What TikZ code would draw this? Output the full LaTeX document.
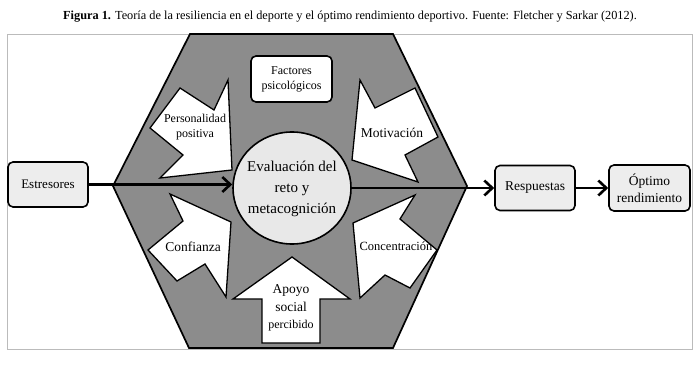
\documentclass[tikz,border=0pt]{standalone}
\usepackage{fontspec}
\setmainfont{Liberation Serif}
\usetikzlibrary{arrows.meta,shapes.geometric}
\definecolor{hexgray}{HTML}{8C8C8C}
\definecolor{circfill}{HTML}{E8E8E8}
\definecolor{boxfill}{HTML}{EDEDED}
\definecolor{framec}{HTML}{BBBBBB}
\begin{document}
\begin{tikzpicture}[x=1pt,y=-1pt,
  conn/.style={line width=2.6pt,-{Straight Barb[length=8pt,width=15pt]}},
  boxnode/.style={draw=black,rounded corners=5pt,line width=1.6pt,fill=boxfill,
     minimum width=80pt,minimum height=45pt,align=center,inner sep=1pt},
  blockarrow/.style={fill=white,draw=black,line width=1.3pt,line join=miter},
  lbl/.style={align=center,inner sep=0pt,text width=110pt}]
\useasboundingbox (0,0) rectangle (700,374);
% title
\node[font=\fontsize{12.3}{14}\selectfont] (title) at (350,17)
  {\textbf{Figura 1.} Teoría de la resiliencia en el deporte y el óptimo rendimiento deportivo. Fuente: Fletcher y Sarkar (2012).};
% frame
\draw[framec,line width=0.9pt] (7,34) rectangle (692,349);
% hexagon
\draw[fill=hexgray,line width=1.7pt,line join=miter]
  (190,34) -- (393,34) -- (467,186) -- (393,348) -- (189,348) -- (113,186) -- cycle;
% block arrows
\draw[blockarrow] (150,128) -- (180,88) -- (214,110) -- (228,80) -- (232,170) -- (160,178) -- (183,155) -- cycle;
\draw[blockarrow] (360,80) -- (375,108) -- (415,88) -- (438,137) -- (405,155) -- (418,182) -- (352,160) -- cycle;
\draw[blockarrow] (231,222) -- (170,194) -- (183,221) -- (148,250) -- (177,281) -- (205,264) -- (226,297) -- cycle;
\draw[blockarrow] (353,223) -- (415,195) -- (400,219) -- (437,250) -- (410,288) -- (385,275) -- (360,298) -- cycle;
\draw[blockarrow] (292,257) -- (350,299) -- (320,299) -- (320,343) -- (262,343) -- (262,299) -- (233,299) -- cycle;
% arrow labels
\node[lbl,font=\fontsize{12}{15}\selectfont] (perso) at (195,127) {Personalidad\\positiva};
\node[lbl,font=\fontsize{13.5}{16}\selectfont] (motiv) at (392,133) {Motivación};
\node[lbl,font=\fontsize{13.5}{16}\selectfont] (confi) at (193,247) {Confianza};
\node[lbl,font=\fontsize{12.5}{15}\selectfont] (conce) at (396,246) {Concentración};
\node[lbl,font=\fontsize{13.5}{17.5}\selectfont] (apoyo) at (291,308) {Apoyo\\social\\{\fontsize{12}{17.5}\selectfont percibido}};
% central ellipse
\node[ellipse,draw=black,fill=circfill,line width=1.6pt,minimum width=118pt,minimum height=112pt,inner sep=0pt] (eval) at (292,188) {};
\node[inner sep=0pt,font=\fontsize{15}{21}\selectfont] (evaltext) at (eval)
  {\begin{tabular}{@{}c@{}}Evaluación del\\reto\ y\\metacognición\end{tabular}};
% boxes
\node[boxnode,fill=white,minimum width=81pt,minimum height=46pt,font=\fontsize{12}{15}\selectfont] (fact) at (291.5,79) {Factores\\psicológicos};
\node[boxnode,font=\fontsize{13}{16}\selectfont] (estr) at (48,184.5) {Estresores};
\node[boxnode,font=\fontsize{13.5}{16}\selectfont] (resp) at (535,188) {Respuestas};
\node[boxnode,minimum width=81pt,minimum height=46pt,font=\fontsize{13.5}{17}\selectfont] (opt) at (649.5,188) {Óptimo\\rendimiento};
% connectors
\draw[conn] (estr.east) -- (estr.east -| eval.west);
\draw[conn] (eval.east) -- (resp.west);
\draw[conn] (resp.east) -- (opt.west);
\end{tikzpicture}
\end{document}
